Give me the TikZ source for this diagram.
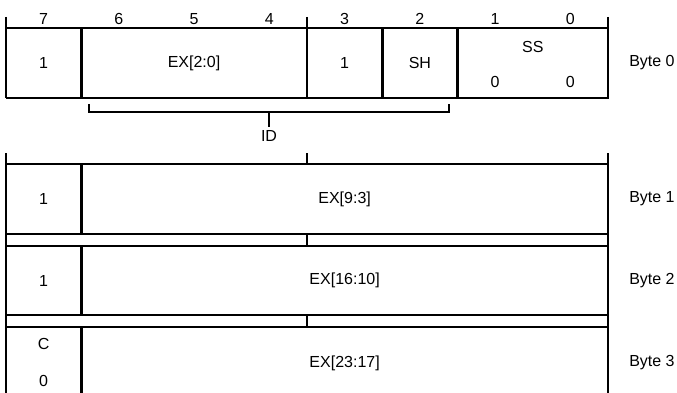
\documentclass[tikz,border=0pt]{standalone}
\usepackage{fontspec}
\setmainfont{Liberation Sans}
\begin{document}
\begin{tikzpicture}[x=0.75pt,y=-0.75pt,
  font=\fontsize{12}{14}\selectfont,
  boxline/.style={line width=2.1pt},
  thinline/.style={line width=0.9pt},
  txt/.style={inner sep=0pt,anchor=center},
  bytelbl/.style={inner sep=0pt,anchor=west}]
\useasboundingbox (0,0) rectangle (677,392);
\begin{scope}
\clip (0,0) rectangle (677,392);
% ---------- Byte 0 ----------
\foreach \b [count=\i from 0] in {7,6,5,4,3,2,1,0}
  \node[txt] (bit\b) at ({43.6+75.25*\i},19) {\b};
\foreach \x in {6,307,608}
  \draw[thinline] (\x,17) -- (\x,28);
\draw[boxline] (5.5,28) -- (608,28) -- (608,98) -- (5.5,98);
\draw[thinline] (6,27.5) -- (6,98.5);
\foreach \x in {81.25,307,382.25,457.5}
  \draw[boxline] (\x,28) -- (\x,98);
\node[txt] (f7) at (43.6,63) {1};
\node[txt] (fex0) at (194,63) {EX[2:0]};
\node[txt] (f3) at (344.6,63) {1};
\node[txt] (fsh) at (419.9,63) {SH};
\node[txt] (fss) at (532.75,47) {SS};
\node[txt] (fss1) at (495,81.5) {0};
\node[txt] (fss0) at (570.4,81.5) {0};
\node[bytelbl] (byte0) at (629,63) {Byte 0};
% ID bracket
\node[inner sep=2.2pt,anchor=center] (id) at (269,135.5) {ID};
\coordinate (ida) at (89,104);
\coordinate (idb) at (449,104);
\coordinate (idm) at (269,112);
\draw[thinline] (ida) |- (idm) -| (idb);
\draw[thinline] (idm) -- (id.north);
% ---------- Byte 1 ----------
\foreach \x in {6,307,608}
  \draw[thinline] (\x,153) -- (\x,164);
\draw[boxline] (5.5,164) -- (608,164) -- (608,234) -- (5.5,234);
\draw[boxline] (81.25,164) -- (81.25,234);
\node[txt] (b1l) at (43.6,199) {1};
\node[txt] (b1ex) at (344.6,199) {EX[9:3]};
\node[bytelbl] (byte1) at (629,199) {Byte 1};
% ---------- Byte 2 ----------
\foreach \x in {307,608}
  \draw[thinline] (\x,234) -- (\x,246);
\draw[boxline] (5.5,246) -- (608,246) -- (608,315) -- (5.5,315);
\draw[boxline] (81.25,246) -- (81.25,315);
\node[txt] (b2l) at (43.6,280.5) {1};
\node[txt] (b2ex) at (344.6,280.5) {EX[16:10]};
\node[bytelbl] (byte2) at (629,280.5) {Byte 2};
% ---------- Byte 3 ----------
\foreach \x in {307,608}
  \draw[thinline] (\x,315) -- (\x,327);
\draw[boxline] (5.5,327) -- (608,327) -- (608,399) -- (5.5,399);
\draw[boxline] (81.25,327) -- (81.25,399);
\node[txt] (b3c) at (43.6,344) {C};
\node[txt] (b3z) at (43.6,381) {0};
\node[txt] (b3ex) at (344.6,363) {EX[23:17]};
\node[bytelbl] (byte3) at (629,363) {Byte 3};
% left edge
\draw[thinline] (6,153) -- (6,400);
\end{scope}
\end{tikzpicture}
\end{document}
